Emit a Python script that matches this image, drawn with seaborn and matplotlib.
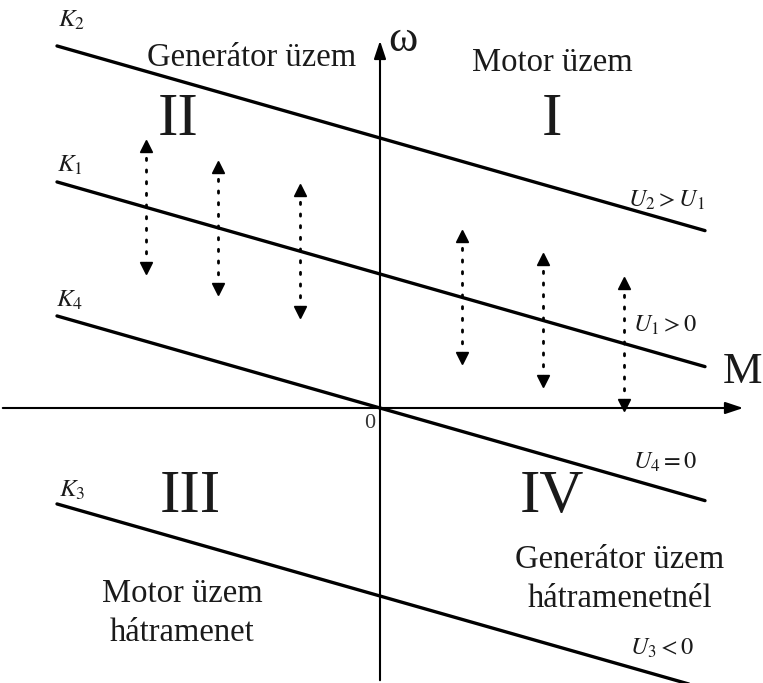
import seaborn as sns
import numpy as np
import matplotlib.pyplot as plt
import pandas as pd

# characteristic lines: omega = omega0 + slope * M
names = ['K2', 'K1', 'K4', 'K3']
omega0 = [2.70, 1.34, 0.0, -1.88]
slope = -0.285
m_start = [-3.23, -3.23, -3.23, -3.23]
m_end = [3.25, 3.25, 3.25, 3.12]
line_labels = [r'$K_2$', r'$K_1$', r'$K_4$', r'$K_3$']
u_labels = [r'$U_2>U_1$', r'$U_1>0$', r'$U_4=0$', r'$U_3<0$']

# dotted double arrows around the K1 line
arrow_m = [-2.34, -1.62, -0.80, 0.82, 1.63, 2.44]
arrow_half = 0.66

sns.set_theme(style='white')
plt.rcParams['font.family'] = ['Liberation Serif', 'DejaVu Serif']
plt.rcParams['mathtext.fontset'] = 'stix'

rows = []
for n, w0, a, b in zip(names, omega0, m_start, m_end):
    for m in (a, b):
        rows.append({'line': n, 'M': m, 'omega': w0 + slope * m})
df = pd.DataFrame(rows)

fig = plt.figure(figsize=(7.63, 6.83), dpi=100)
ax = fig.add_axes([0, 0, 1, 1])
sns.lineplot(data=df, x='M', y='omega', units='line', estimator=None,
             color='black', lw=2.4, ax=ax, legend=False)
ax.set_xlim(-3.80, 3.83)
ax.set_ylim(-2.75, 4.08)
ax.axis('off')

# axes with arrows
ax.annotate('', xy=(3.66, 0), xytext=(-3.80, 0),
            arrowprops=dict(arrowstyle='-|>,head_length=0.9,head_width=0.3', color='black', lw=1.5))
ax.annotate('', xy=(0, 3.70), xytext=(0, -2.75),
            arrowprops=dict(arrowstyle='-|>,head_length=0.9,head_width=0.3', color='black', lw=1.5))

w1 = omega0[1]
for m in arrow_m:
    c = w1 + slope * m
    top, bot = c + arrow_half, c - arrow_half
    ax.plot([m, m], [bot + 0.08, top - 0.08], color='black', lw=2,
            ls=(0, (0.8, 3.4)), dash_capstyle='round')
    ax.plot([m], [top - 0.05], marker='^', color='black', ms=8.5, ls='none')
    ax.plot([m], [bot + 0.05], marker='v', color='black', ms=8.5, ls='none')

txt = '#1a1a1a'
# line labels
k_pos = [(-3.08, 3.88), (-3.10, 2.43), (-3.10, 1.08), (-3.08, -0.82)]
u_pos = [(2.86, 2.08), (2.85, 0.83), (2.85, -0.54), (2.82, -2.40)]
for lab, (x, y) in zip(line_labels, k_pos):
    ax.text(x, y, lab, fontsize=18, ha='center', va='center', color=txt)
for lab, (x, y) in zip(u_labels, u_pos):
    ax.text(x, y, lab, fontsize=17.5, ha='center', va='center', color=txt)

ax.text(-1.28, 3.50, 'Generátor üzem', fontsize=23.5, ha='center', va='center', color=txt)
ax.text(1.72, 3.45, 'Motor üzem', fontsize=23.5, ha='center', va='center', color=txt)
ax.text(-2.02, 2.88, 'II', fontsize=44, ha='center', va='center', color=txt)
ax.text(1.72, 2.88, 'I', fontsize=44, ha='center', va='center', color=txt)
ax.text(-1.90, -0.89, 'III', fontsize=44, ha='center', va='center', color=txt)
ax.text(1.72, -0.89, 'IV', fontsize=44, ha='center', va='center', color=txt)
ax.text(2.40, -1.71, 'Generátor üzem\nhátramenetnél', fontsize=23.5,
        ha='center', va='center', linespacing=1.35, color=txt)
ax.text(-1.98, -2.05, 'Motor üzem\nhátramenet', fontsize=23.5,
        ha='center', va='center', linespacing=1.35, color=txt)
ax.text(-0.10, -0.15, '0', fontsize=16, ha='center', va='center', color='#333333')
ax.text(0.23, 3.68, 'ω', fontsize=32, ha='center', va='center', color=txt)
ax.text(3.62, 0.36, 'M', fontsize=32, ha='center', va='center', color=txt)

plt.savefig('out.png', dpi=100)
plt.close()
